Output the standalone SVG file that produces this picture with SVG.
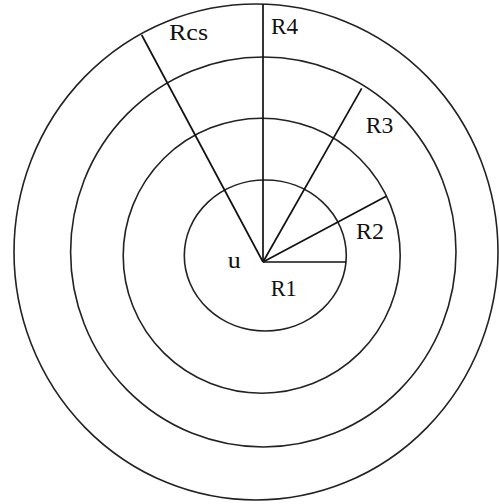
<svg xmlns="http://www.w3.org/2000/svg" width="499" height="504" viewBox="0 0 499 504">
<style>
.ring{fill:none;stroke:#222;stroke-width:1.6}
.ray{stroke:#111;stroke-width:1.7;fill:none}
text{font-family:"Liberation Serif","Times New Roman",serif;font-size:24px;fill:#111}
</style>
<rect width="499" height="504" fill="#fff"/>
<g id="ring4"><ellipse class="ring" cx="256" cy="252" rx="242" ry="248"/></g>
<g id="ring3"><ellipse class="ring" cx="263.3" cy="252" rx="192.7" ry="195"/></g>
<g id="ring2"><ellipse class="ring" cx="261.7" cy="255.7" rx="138.5" ry="137.5"/></g>
<g id="ring1"><ellipse class="ring" cx="265.3" cy="255.5" rx="81" ry="75.5"/></g>
<g id="connectors">
<line class="ray" x1="263" y1="262" x2="346" y2="262"/>
<line class="ray" x1="263" y1="262" x2="386.7" y2="196"/>
<line class="ray" x1="263" y1="262" x2="361.7" y2="88.3"/>
<line class="ray" x1="263" y1="262" x2="263" y2="4"/>
<line class="ray" x1="263" y1="262" x2="141.7" y2="35"/>
</g>
<g id="labels">
<text x="169" y="40" textLength="39" lengthAdjust="spacingAndGlyphs">Rcs</text>
<text x="271" y="34.3" textLength="27" lengthAdjust="spacingAndGlyphs">R4</text>
<text x="365.7" y="133.3" textLength="27.6" lengthAdjust="spacingAndGlyphs">R3</text>
<text x="356" y="239.3" textLength="28" lengthAdjust="spacingAndGlyphs">R2</text>
<text x="227.7" y="268.3" textLength="13" lengthAdjust="spacingAndGlyphs">u</text>
<text x="270.7" y="296" textLength="26" lengthAdjust="spacingAndGlyphs">R1</text>
</g>
</svg>
